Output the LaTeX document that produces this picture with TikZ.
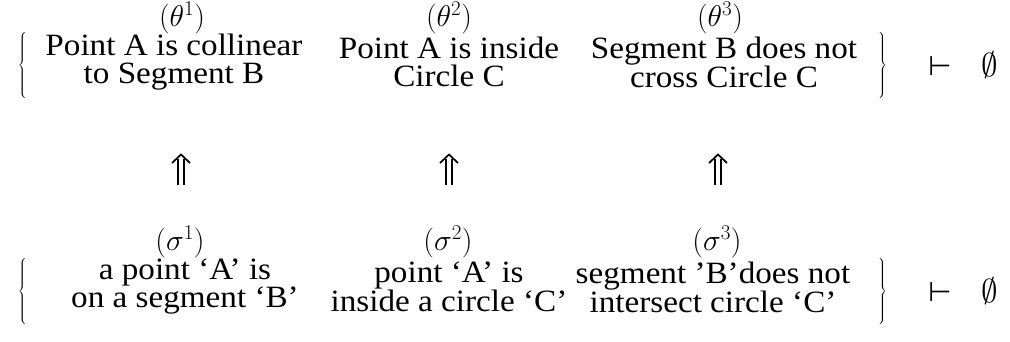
\RequirePackage{fix-cm}
\documentclass[tikz,border=0pt]{standalone}
\usepackage{fontspec}
\setmainfont{Liberation Serif}[FakeStretch=1.07]
\newfontfamily\symfont{DejaVu Sans}
\begin{document}
\begin{tikzpicture}[x=1pt,y=-1pt,
  every node/.style={inner sep=0pt,outer sep=0pt,font=\fontsize{31}{28}\selectfont},
  txt/.style={align=center},
  lbl/.style={font=\fontsize{30}{28}\selectfont},
  brc/.style={},
  uparr/.pic={
    \draw[line width=1.7pt] (-3.2,15) -- (-3.2,-11) (3.2,15) -- (3.2,-11);
    \draw[line width=1.7pt,line join=miter] (-9,-7) -- (0,-15.5) -- (9,-7);
  }]
\path[use as bounding box] (0,0) rectangle (1010,341);
% top row
\node[brc] (lbT) at (23,65) {$\left\{\vcenter{\hbox{\rule{0pt}{66pt}}}\right.$};
\node[lbl] (th1) at (182,18) {$(\theta^1)$};
\node[lbl] (th2) at (449,18) {$(\theta^2)$};
\node[lbl] (th3) at (720,18) {$(\theta^3)$};
\node[txt] (a1) at (174,62) {Point A is collinear\\to Segment B};
\node[txt] (a2) at (449,62) {Point A is inside\\Circle C};
\node[txt] (a3) at (724,62) {Segment B does not\\cross Circle C};
\node[brc] (rbT) at (882,65) {$\left.\vcenter{\hbox{\rule{0pt}{66pt}}}\right\}$};
\node (vdT) at (940,66) {\symfont\fontsize{27}{27}\selectfont ⊢};
\node (emT) at (990,65) {\fontsize{33}{33}\selectfont$\emptyset$};
% arrows
\pic (u1) at (181,170) {uparr};
\pic (u2) at (449,170) {uparr};
\pic (u3) at (718,170) {uparr};
% bottom row
\node[brc] (lbB) at (23,291) {$\left\{\vcenter{\hbox{\rule{0pt}{66pt}}}\right.$};
\node[lbl] (si1) at (180,242) {$(\sigma^1)$};
\node[lbl] (si2) at (448,242) {$(\sigma^2)$};
\node[lbl] (si3) at (717,242) {$(\sigma^3)$};
\node[txt] (b1) at (185,287) {a point ‘A’ is\\on a segment ‘B’};
\node[txt] (b2) at (449,287) {point ‘A’ is\\inside a circle ‘C’};
\node[txt] (b3) at (713,287) {segment ’B’does not\\intersect circle ‘C’};
\node[brc] (rbB) at (882,291) {$\left.\vcenter{\hbox{\rule{0pt}{66pt}}}\right\}$};
\node (vdB) at (940,292) {\symfont\fontsize{27}{27}\selectfont ⊢};
\node (emB) at (990,291) {\fontsize{33}{33}\selectfont$\emptyset$};
\end{tikzpicture}
\end{document}
